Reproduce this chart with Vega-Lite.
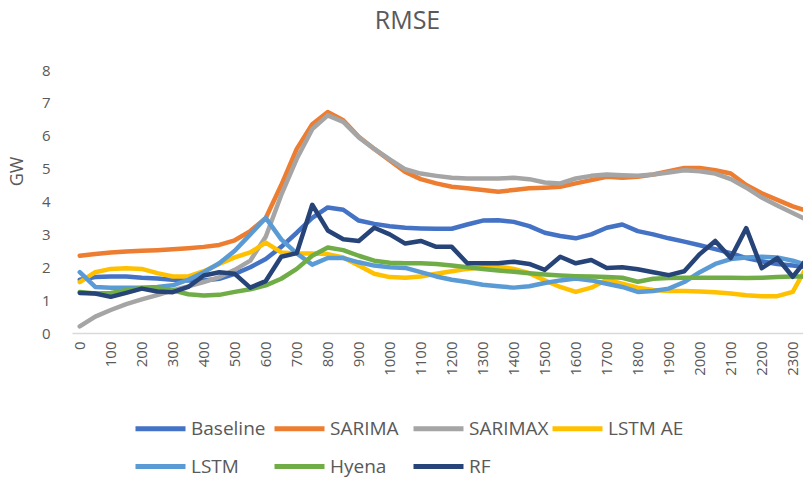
{
"$schema": "https://vega.github.io/schema/vega-lite/v6.json",
"width": 731, "height": 263,
"autosize": {"type": "none"},
"padding": {"left": 72, "top": 70, "right": 0, "bottom": 147},
"background": "white",
"title": {"text": "RMSE", "fontSize": 25, "font": "Open Sans", "fontWeight": "normal", "color": "#595959", "anchor": "middle", "offset": 29, "dx": -30},
"datasets": {
"rows": [
{"m":"Baseline","t":"0","v":1.62},{"m":"Baseline","t":"30","v":1.7},{"m":"Baseline","t":"100","v":1.72},{"m":"Baseline","t":"130","v":1.72},{"m":"Baseline","t":"200","v":1.68},{"m":"Baseline","t":"230","v":1.66},{"m":"Baseline","t":"300","v":1.62},{"m":"Baseline","t":"330","v":1.6},{"m":"Baseline","t":"400","v":1.6},{"m":"Baseline","t":"430","v":1.65},{"m":"Baseline","t":"500","v":1.8},{"m":"Baseline","t":"530","v":2.0},{"m":"Baseline","t":"600","v":2.25},{"m":"Baseline","t":"630","v":2.62},{"m":"Baseline","t":"700","v":3.05},{"m":"Baseline","t":"730","v":3.5},{"m":"Baseline","t":"800","v":3.82},{"m":"Baseline","t":"830","v":3.75},{"m":"Baseline","t":"900","v":3.42},{"m":"Baseline","t":"930","v":3.32},{"m":"Baseline","t":"1000","v":3.25},{"m":"Baseline","t":"1030","v":3.2},{"m":"Baseline","t":"1100","v":3.18},{"m":"Baseline","t":"1130","v":3.17},{"m":"Baseline","t":"1200","v":3.17},{"m":"Baseline","t":"1230","v":3.3},{"m":"Baseline","t":"1300","v":3.42},{"m":"Baseline","t":"1330","v":3.43},{"m":"Baseline","t":"1400","v":3.38},{"m":"Baseline","t":"1430","v":3.25},{"m":"Baseline","t":"1500","v":3.05},{"m":"Baseline","t":"1530","v":2.95},{"m":"Baseline","t":"1600","v":2.88},{"m":"Baseline","t":"1630","v":3.0},{"m":"Baseline","t":"1700","v":3.2},{"m":"Baseline","t":"1730","v":3.3},{"m":"Baseline","t":"1800","v":3.1},{"m":"Baseline","t":"1830","v":3.0},{"m":"Baseline","t":"1900","v":2.88},{"m":"Baseline","t":"1930","v":2.78},{"m":"Baseline","t":"2000","v":2.67},{"m":"Baseline","t":"2030","v":2.55},{"m":"Baseline","t":"2100","v":2.43},{"m":"Baseline","t":"2130","v":2.28},{"m":"Baseline","t":"2200","v":2.18},{"m":"Baseline","t":"2230","v":2.1},{"m":"Baseline","t":"2300","v":2.05},{"m":"Baseline","t":"2330","v":2.0},
{"m":"SARIMA","t":"0","v":2.35},{"m":"SARIMA","t":"30","v":2.4},{"m":"SARIMA","t":"100","v":2.45},{"m":"SARIMA","t":"130","v":2.48},{"m":"SARIMA","t":"200","v":2.5},{"m":"SARIMA","t":"230","v":2.52},{"m":"SARIMA","t":"300","v":2.55},{"m":"SARIMA","t":"330","v":2.58},{"m":"SARIMA","t":"400","v":2.62},{"m":"SARIMA","t":"430","v":2.68},{"m":"SARIMA","t":"500","v":2.82},{"m":"SARIMA","t":"530","v":3.1},{"m":"SARIMA","t":"600","v":3.5},{"m":"SARIMA","t":"630","v":4.5},{"m":"SARIMA","t":"700","v":5.6},{"m":"SARIMA","t":"730","v":6.35},{"m":"SARIMA","t":"800","v":6.72},{"m":"SARIMA","t":"830","v":6.47},{"m":"SARIMA","t":"900","v":5.97},{"m":"SARIMA","t":"930","v":5.6},{"m":"SARIMA","t":"1000","v":5.25},{"m":"SARIMA","t":"1030","v":4.9},{"m":"SARIMA","t":"1100","v":4.68},{"m":"SARIMA","t":"1130","v":4.55},{"m":"SARIMA","t":"1200","v":4.45},{"m":"SARIMA","t":"1230","v":4.4},{"m":"SARIMA","t":"1300","v":4.35},{"m":"SARIMA","t":"1330","v":4.3},{"m":"SARIMA","t":"1400","v":4.35},{"m":"SARIMA","t":"1430","v":4.4},{"m":"SARIMA","t":"1500","v":4.42},{"m":"SARIMA","t":"1530","v":4.45},{"m":"SARIMA","t":"1600","v":4.55},{"m":"SARIMA","t":"1630","v":4.65},{"m":"SARIMA","t":"1700","v":4.75},{"m":"SARIMA","t":"1730","v":4.72},{"m":"SARIMA","t":"1800","v":4.75},{"m":"SARIMA","t":"1830","v":4.82},{"m":"SARIMA","t":"1900","v":4.92},{"m":"SARIMA","t":"1930","v":5.02},{"m":"SARIMA","t":"2000","v":5.02},{"m":"SARIMA","t":"2030","v":4.95},{"m":"SARIMA","t":"2100","v":4.85},{"m":"SARIMA","t":"2130","v":4.5},{"m":"SARIMA","t":"2200","v":4.25},{"m":"SARIMA","t":"2230","v":4.05},{"m":"SARIMA","t":"2300","v":3.85},{"m":"SARIMA","t":"2330","v":3.7},
{"m":"SARIMAX","t":"0","v":0.2},{"m":"SARIMAX","t":"30","v":0.5},{"m":"SARIMAX","t":"100","v":0.7},{"m":"SARIMAX","t":"130","v":0.88},{"m":"SARIMAX","t":"200","v":1.02},{"m":"SARIMAX","t":"230","v":1.15},{"m":"SARIMAX","t":"300","v":1.3},{"m":"SARIMAX","t":"330","v":1.42},{"m":"SARIMAX","t":"400","v":1.55},{"m":"SARIMAX","t":"430","v":1.7},{"m":"SARIMAX","t":"500","v":1.92},{"m":"SARIMAX","t":"530","v":2.2},{"m":"SARIMAX","t":"600","v":2.93},{"m":"SARIMAX","t":"630","v":4.2},{"m":"SARIMAX","t":"700","v":5.3},{"m":"SARIMAX","t":"730","v":6.2},{"m":"SARIMAX","t":"800","v":6.62},{"m":"SARIMAX","t":"830","v":6.42},{"m":"SARIMAX","t":"900","v":5.95},{"m":"SARIMAX","t":"930","v":5.6},{"m":"SARIMAX","t":"1000","v":5.28},{"m":"SARIMAX","t":"1030","v":4.98},{"m":"SARIMAX","t":"1100","v":4.85},{"m":"SARIMAX","t":"1130","v":4.78},{"m":"SARIMAX","t":"1200","v":4.72},{"m":"SARIMAX","t":"1230","v":4.7},{"m":"SARIMAX","t":"1300","v":4.7},{"m":"SARIMAX","t":"1330","v":4.7},{"m":"SARIMAX","t":"1400","v":4.72},{"m":"SARIMAX","t":"1430","v":4.68},{"m":"SARIMAX","t":"1500","v":4.58},{"m":"SARIMAX","t":"1530","v":4.55},{"m":"SARIMAX","t":"1600","v":4.7},{"m":"SARIMAX","t":"1630","v":4.78},{"m":"SARIMAX","t":"1700","v":4.82},{"m":"SARIMAX","t":"1730","v":4.8},{"m":"SARIMAX","t":"1800","v":4.78},{"m":"SARIMAX","t":"1830","v":4.82},{"m":"SARIMAX","t":"1900","v":4.88},{"m":"SARIMAX","t":"1930","v":4.95},{"m":"SARIMAX","t":"2000","v":4.92},{"m":"SARIMAX","t":"2030","v":4.85},{"m":"SARIMAX","t":"2100","v":4.68},{"m":"SARIMAX","t":"2130","v":4.42},{"m":"SARIMAX","t":"2200","v":4.12},{"m":"SARIMAX","t":"2230","v":3.88},{"m":"SARIMAX","t":"2300","v":3.65},{"m":"SARIMAX","t":"2330","v":3.42},
{"m":"LSTM AE","t":"0","v":1.55},{"m":"LSTM AE","t":"30","v":1.85},{"m":"LSTM AE","t":"100","v":1.95},{"m":"LSTM AE","t":"130","v":1.97},{"m":"LSTM AE","t":"200","v":1.95},{"m":"LSTM AE","t":"230","v":1.82},{"m":"LSTM AE","t":"300","v":1.72},{"m":"LSTM AE","t":"330","v":1.72},{"m":"LSTM AE","t":"400","v":1.88},{"m":"LSTM AE","t":"430","v":2.1},{"m":"LSTM AE","t":"500","v":2.3},{"m":"LSTM AE","t":"530","v":2.45},{"m":"LSTM AE","t":"600","v":2.75},{"m":"LSTM AE","t":"630","v":2.45},{"m":"LSTM AE","t":"700","v":2.42},{"m":"LSTM AE","t":"730","v":2.42},{"m":"LSTM AE","t":"800","v":2.4},{"m":"LSTM AE","t":"830","v":2.3},{"m":"LSTM AE","t":"900","v":2.05},{"m":"LSTM AE","t":"930","v":1.8},{"m":"LSTM AE","t":"1000","v":1.7},{"m":"LSTM AE","t":"1030","v":1.68},{"m":"LSTM AE","t":"1100","v":1.72},{"m":"LSTM AE","t":"1130","v":1.8},{"m":"LSTM AE","t":"1200","v":1.88},{"m":"LSTM AE","t":"1230","v":1.95},{"m":"LSTM AE","t":"1300","v":2.0},{"m":"LSTM AE","t":"1330","v":2.02},{"m":"LSTM AE","t":"1400","v":1.95},{"m":"LSTM AE","t":"1430","v":1.82},{"m":"LSTM AE","t":"1500","v":1.6},{"m":"LSTM AE","t":"1530","v":1.4},{"m":"LSTM AE","t":"1600","v":1.25},{"m":"LSTM AE","t":"1630","v":1.38},{"m":"LSTM AE","t":"1700","v":1.62},{"m":"LSTM AE","t":"1730","v":1.5},{"m":"LSTM AE","t":"1800","v":1.38},{"m":"LSTM AE","t":"1830","v":1.31},{"m":"LSTM AE","t":"1900","v":1.28},{"m":"LSTM AE","t":"1930","v":1.28},{"m":"LSTM AE","t":"2000","v":1.26},{"m":"LSTM AE","t":"2030","v":1.24},{"m":"LSTM AE","t":"2100","v":1.2},{"m":"LSTM AE","t":"2130","v":1.15},{"m":"LSTM AE","t":"2200","v":1.12},{"m":"LSTM AE","t":"2230","v":1.12},{"m":"LSTM AE","t":"2300","v":1.25},{"m":"LSTM AE","t":"2330","v":2.1},
{"m":"LSTM","t":"0","v":1.85},{"m":"LSTM","t":"30","v":1.4},{"m":"LSTM","t":"100","v":1.38},{"m":"LSTM","t":"130","v":1.38},{"m":"LSTM","t":"200","v":1.38},{"m":"LSTM","t":"230","v":1.4},{"m":"LSTM","t":"300","v":1.45},{"m":"LSTM","t":"330","v":1.62},{"m":"LSTM","t":"400","v":1.85},{"m":"LSTM","t":"430","v":2.12},{"m":"LSTM","t":"500","v":2.5},{"m":"LSTM","t":"530","v":3.0},{"m":"LSTM","t":"600","v":3.5},{"m":"LSTM","t":"630","v":2.85},{"m":"LSTM","t":"700","v":2.42},{"m":"LSTM","t":"730","v":2.08},{"m":"LSTM","t":"800","v":2.28},{"m":"LSTM","t":"830","v":2.28},{"m":"LSTM","t":"900","v":2.15},{"m":"LSTM","t":"930","v":2.05},{"m":"LSTM","t":"1000","v":2.0},{"m":"LSTM","t":"1030","v":1.98},{"m":"LSTM","t":"1100","v":1.85},{"m":"LSTM","t":"1130","v":1.72},{"m":"LSTM","t":"1200","v":1.62},{"m":"LSTM","t":"1230","v":1.55},{"m":"LSTM","t":"1300","v":1.47},{"m":"LSTM","t":"1330","v":1.42},{"m":"LSTM","t":"1400","v":1.38},{"m":"LSTM","t":"1430","v":1.42},{"m":"LSTM","t":"1500","v":1.52},{"m":"LSTM","t":"1530","v":1.6},{"m":"LSTM","t":"1600","v":1.66},{"m":"LSTM","t":"1630","v":1.6},{"m":"LSTM","t":"1700","v":1.5},{"m":"LSTM","t":"1730","v":1.4},{"m":"LSTM","t":"1800","v":1.25},{"m":"LSTM","t":"1830","v":1.28},{"m":"LSTM","t":"1900","v":1.35},{"m":"LSTM","t":"1930","v":1.55},{"m":"LSTM","t":"2000","v":1.85},{"m":"LSTM","t":"2030","v":2.1},{"m":"LSTM","t":"2100","v":2.25},{"m":"LSTM","t":"2130","v":2.3},{"m":"LSTM","t":"2200","v":2.32},{"m":"LSTM","t":"2230","v":2.3},{"m":"LSTM","t":"2300","v":2.2},{"m":"LSTM","t":"2330","v":2.05},
{"m":"Hyena","t":"0","v":1.25},{"m":"Hyena","t":"30","v":1.2},{"m":"Hyena","t":"100","v":1.22},{"m":"Hyena","t":"130","v":1.3},{"m":"Hyena","t":"200","v":1.37},{"m":"Hyena","t":"230","v":1.36},{"m":"Hyena","t":"300","v":1.3},{"m":"Hyena","t":"330","v":1.18},{"m":"Hyena","t":"400","v":1.14},{"m":"Hyena","t":"430","v":1.16},{"m":"Hyena","t":"500","v":1.25},{"m":"Hyena","t":"530","v":1.33},{"m":"Hyena","t":"600","v":1.45},{"m":"Hyena","t":"630","v":1.65},{"m":"Hyena","t":"700","v":1.95},{"m":"Hyena","t":"730","v":2.35},{"m":"Hyena","t":"800","v":2.6},{"m":"Hyena","t":"830","v":2.52},{"m":"Hyena","t":"900","v":2.35},{"m":"Hyena","t":"930","v":2.2},{"m":"Hyena","t":"1000","v":2.14},{"m":"Hyena","t":"1030","v":2.12},{"m":"Hyena","t":"1100","v":2.12},{"m":"Hyena","t":"1130","v":2.1},{"m":"Hyena","t":"1200","v":2.05},{"m":"Hyena","t":"1230","v":2.0},{"m":"Hyena","t":"1300","v":1.95},{"m":"Hyena","t":"1330","v":1.9},{"m":"Hyena","t":"1400","v":1.86},{"m":"Hyena","t":"1430","v":1.82},{"m":"Hyena","t":"1500","v":1.78},{"m":"Hyena","t":"1530","v":1.75},{"m":"Hyena","t":"1600","v":1.73},{"m":"Hyena","t":"1630","v":1.72},{"m":"Hyena","t":"1700","v":1.7},{"m":"Hyena","t":"1730","v":1.68},{"m":"Hyena","t":"1800","v":1.56},{"m":"Hyena","t":"1830","v":1.65},{"m":"Hyena","t":"1900","v":1.67},{"m":"Hyena","t":"1930","v":1.68},{"m":"Hyena","t":"2000","v":1.68},{"m":"Hyena","t":"2030","v":1.68},{"m":"Hyena","t":"2100","v":1.68},{"m":"Hyena","t":"2130","v":1.67},{"m":"Hyena","t":"2200","v":1.68},{"m":"Hyena","t":"2230","v":1.7},{"m":"Hyena","t":"2300","v":1.72},{"m":"Hyena","t":"2330","v":1.72},
{"m":"RF","t":"0","v":1.22},{"m":"RF","t":"30","v":1.2},{"m":"RF","t":"100","v":1.1},{"m":"RF","t":"130","v":1.22},{"m":"RF","t":"200","v":1.35},{"m":"RF","t":"230","v":1.26},{"m":"RF","t":"300","v":1.24},{"m":"RF","t":"330","v":1.4},{"m":"RF","t":"400","v":1.75},{"m":"RF","t":"430","v":1.85},{"m":"RF","t":"500","v":1.8},{"m":"RF","t":"530","v":1.38},{"m":"RF","t":"600","v":1.58},{"m":"RF","t":"630","v":2.32},{"m":"RF","t":"700","v":2.43},{"m":"RF","t":"730","v":3.9},{"m":"RF","t":"800","v":3.12},{"m":"RF","t":"830","v":2.85},{"m":"RF","t":"900","v":2.8},{"m":"RF","t":"930","v":3.2},{"m":"RF","t":"1000","v":3.0},{"m":"RF","t":"1030","v":2.72},{"m":"RF","t":"1100","v":2.8},{"m":"RF","t":"1130","v":2.62},{"m":"RF","t":"1200","v":2.62},{"m":"RF","t":"1230","v":2.12},{"m":"RF","t":"1300","v":2.12},{"m":"RF","t":"1330","v":2.12},{"m":"RF","t":"1400","v":2.17},{"m":"RF","t":"1430","v":2.1},{"m":"RF","t":"1500","v":1.92},{"m":"RF","t":"1530","v":2.32},{"m":"RF","t":"1600","v":2.12},{"m":"RF","t":"1630","v":2.22},{"m":"RF","t":"1700","v":1.98},{"m":"RF","t":"1730","v":2.0},{"m":"RF","t":"1800","v":1.94},{"m":"RF","t":"1830","v":1.85},{"m":"RF","t":"1900","v":1.76},{"m":"RF","t":"1930","v":1.88},{"m":"RF","t":"2000","v":2.4},{"m":"RF","t":"2030","v":2.8},{"m":"RF","t":"2100","v":2.28},{"m":"RF","t":"2130","v":3.19},{"m":"RF","t":"2200","v":1.97},{"m":"RF","t":"2230","v":2.28},{"m":"RF","t":"2300","v":1.71},{"m":"RF","t":"2330","v":2.3}
]
},
"data": {"name": "rows"},
"mark": {"type": "line", "strokeWidth": 4.5, "strokeJoin": "round", "strokeCap": "round", "clip": true},
"encoding": {
"x": {"field": "t", "type": "ordinal", "sort": null,
 "scale": {"type": "band", "range": [0, 744], "paddingInner": 0, "paddingOuter": 0},
 "axis": {"title": null, "values": ["0","100","200","300","400","500","600","700","800","900","1000","1100","1200","1300","1400","1500","1600","1700","1800","1900","2000","2100","2200","2300"], "labelAngle": -90, "labelFontSize": 15, "labelFont": "Open Sans", "labelColor": "#595959", "ticks": false, "domainColor": "#D9D9D9", "domainWidth": 1.5, "labelPadding": 8, "grid": false}},
"y": {"field": "v", "type": "quantitative",
 "scale": {"domain": [0, 8], "nice": false},
 "axis": {"title": "GW", "values": [0,1,2,3,4,5,6,7,8], "grid": false, "domain": false, "ticks": false, "tickSize": 0, "labelPadding": 22, "labelFontSize": 15, "labelFont": "Open Sans", "labelColor": "#595959", "titleFontSize": 18, "titleFont": "Open Sans", "titleColor": "#595959", "titleFontWeight": "normal", "titleX": -55, "titleY": 101, "titleAngle": -90, "titleBaseline": "middle", "titleAlign": "center"}},
"color": {"field": "m", "type": "nominal", "sort": null,
 "scale": {"domain": ["Baseline","SARIMA","SARIMAX","LSTM AE","LSTM","Hyena","RF"], "range": ["#4472C4","#ED7D31","#A5A5A5","#FFC000","#5B9BD5","#70AD47","#264478"]},
 "legend": {"orient": "none", "legendX": 61, "legendY": 331, "direction": "horizontal", "columns": 4, "gridAlign": "all", "title": null, "symbolType": "stroke", "symbolSize": 2500, "symbolStrokeWidth": 5, "labelFontSize": 19, "labelFont": "Open Sans", "labelColor": "#595959", "columnPadding": -7, "rowPadding": -15, "labelOffset": 3, "labelLimit": 300}}
},
"config": {"view": {"stroke": null}, "font": "Open Sans"}
}
